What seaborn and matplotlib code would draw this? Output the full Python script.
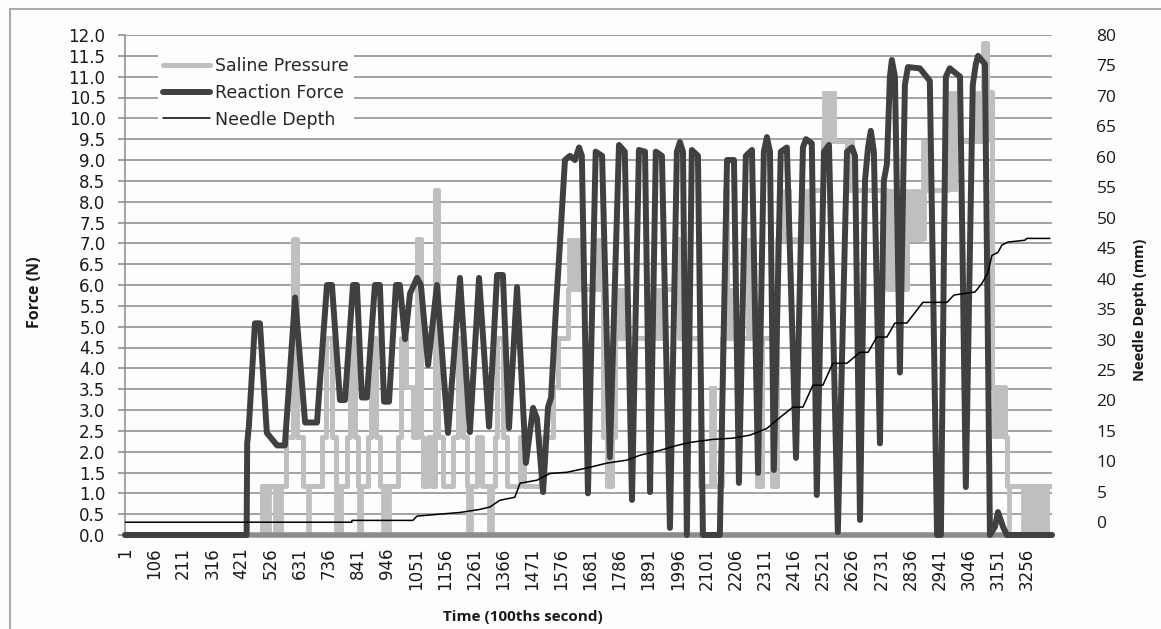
import numpy as np
import pandas as pd
import matplotlib
matplotlib.use("Agg")
import matplotlib.pyplot as plt
from matplotlib.lines import Line2D
from matplotlib.patches import Rectangle
import seaborn as sns

# ---------------- data ----------------
tick_labels = [str(v) for v in range(1, 3257, 105)]

# Reaction force (N) key points
force_time = [1, 440, 442, 448, 470, 488, 513, 550, 578, 615, 651, 694, 730, 748, 777, 795,
              824, 838, 856, 874, 903, 921, 936, 954, 979, 993, 1012, 1030, 1055, 1069, 1095,
              1127, 1167, 1210, 1246, 1279, 1315, 1344, 1365, 1387, 1416, 1448, 1474, 1488,
              1510, 1528, 1539, 1557, 1571, 1589, 1607, 1625, 1640, 1650, 1672, 1700, 1723,
              1751, 1784, 1805, 1831, 1856, 1878, 1896, 1917, 1939, 1968, 1993, 2004, 2015,
              2029, 2047, 2069, 2087, 2148, 2174, 2199, 2217, 2242, 2264, 2286, 2307, 2318,
              2329, 2343, 2368, 2390, 2423, 2448, 2459, 2480, 2498, 2524, 2542, 2574, 2607,
              2625, 2636, 2654, 2672, 2683, 2693, 2704, 2726, 2740, 2751, 2762, 2769, 2780,
              2798, 2816, 2827, 2870, 2906, 2932, 2946, 2964, 2978, 3015, 3036, 3061, 3072,
              3080, 3105, 3123, 3141, 3152, 3170, 3184, 3347]
force_value = [0, 0, 2.2, 2.6, 5.08, 5.08, 2.45, 2.15, 2.15, 5.7, 2.7, 2.7, 6.0, 6.0, 3.24, 3.24,
               6.0, 6.0, 3.3, 3.3, 6.0, 6.0, 3.2, 3.2, 6.0, 6.0, 4.7, 5.8, 6.17, 6.0, 4.08,
               6.0, 2.45, 6.17, 2.47, 6.17, 2.6, 6.24, 6.24, 2.57, 5.95, 1.73, 3.05, 2.8,
               1.03, 3.07, 3.3, 5.5, 7.0, 9.0, 9.1, 9.0, 9.3, 9.1, 1.0, 9.2, 9.1,
               1.87, 9.36, 9.2, 0.84, 9.24, 9.2, 1.03, 9.2, 9.1, 0.17, 9.2, 9.43, 9.2,
               0.0, 9.24, 9.1, 0.0, 0.0, 9.0, 9.0, 1.25, 9.1, 9.24, 1.49, 9.2, 9.55,
               9.2, 1.56, 9.2, 9.3, 1.85, 9.3, 9.5, 9.4, 0.96, 9.2, 9.36, 0.07, 9.2,
               9.3, 9.1, 0.36, 8.5, 9.3, 9.7, 9.2, 2.2, 8.5, 8.9, 11.0, 11.4, 11.0,
               3.9, 10.8, 11.23, 11.2, 10.9, 0.0, 0.0, 11.0, 11.2, 11.0, 1.15, 10.8, 11.3,
               11.5, 11.3, 0.0, 0.2, 0.55, 0.2, 0.0, 0.0]

# Saline pressure: level changes (time, new level)
saline_time = [1, 495, 582, 607, 622, 643, 712, 726, 748, 762, 801, 812, 831, 842, 878, 888,
               906, 921, 986, 997, 1015, 1040, 1055, 1069, 1076, 1095, 1109, 1120, 1131,
               1149, 1185, 1203, 1221, 1235, 1271, 1289, 1336, 1344, 1365, 1380, 1427, 1441,
               1510, 1546, 1564, 1600, 1726, 1740, 1759, 1769, 1950, 1986, 2000, 2076, 2156,
               2166, 2175, 2282, 2300, 2336, 2354, 2473, 2520, 2607, 2751, 2823, 2877, 2971,
               3098, 3112, 3130, 3177, 3184, 3347]
saline_value = [0, 1.18, 2.36, 7.1, 2.36, 1.18, 2.36, 4.73, 2.36, 1.18, 2.36, 4.73, 2.36, 1.18,
                2.36, 4.73, 2.36, 1.18, 2.36, 4.73, 3.55, 2.36, 7.1, 2.36, 1.18, 2.36, 1.18,
                8.28, 2.36, 1.18, 2.36, 4.73, 2.36, 1.18, 2.36, 1.18, 2.36, 4.73, 2.36, 1.18,
                2.36, 1.18, 2.36, 3.55, 4.73, 5.9, 2.36, 1.18, 2.36, 4.73, 5.9, 7.1, 4.73,
                1.18, 4.73, 8.28, 4.73, 1.18, 4.73, 1.18, 7.1, 8.28, 9.45, 8.28, 5.9, 7.1,
                8.28, 9.45, 11.8, 10.63, 3.55, 2.36, 1.18, 1.18]

# Saline pressure: spans of rapid toggling between two levels
toggle_start = [499, 539, 658, 759, 842, 928, 1235, 1311, 1600, 1704, 1777, 1914, 2112, 2159,
                2246, 2372, 2448, 2520, 2607, 2751, 2823, 2877, 2971, 3069, 3134, 3188, 3238]
toggle_end = [524, 568, 669, 784, 856, 957, 1253, 1329, 1650, 1726, 1813, 1950, 2130, 2192,
              2267, 2401, 2473, 2563, 2628, 2823, 2888, 2906, 3000, 3130, 3177, 3195, 3332]
toggle_low = [0, 0, 0, 0, 0, 0, 0, 0, 5.9, 5.9, 4.73, 4.73, 1.18, 4.73,
              4.73, 7.1, 7.1, 9.45, 8.28, 5.9, 7.1, 8.28, 8.28, 9.45, 2.36, 0, 0]
toggle_high = [1.18, 1.18, 1.18, 1.18, 1.18, 1.18, 1.18, 1.18, 7.1, 7.1, 5.9, 5.9, 3.55, 5.9,
               7.1, 8.28, 8.28, 10.63, 9.45, 8.28, 8.28, 9.45, 10.63, 10.63, 3.55, 1.18, 1.18]

# Needle depth (mm)
needle_time = [1, 820, 820, 1040, 1055, 1131, 1210, 1282, 1318, 1354, 1408, 1427, 1488, 1535,
               1596, 1668, 1740, 1813, 1860, 1932, 1993, 2040, 2123, 2195, 2257, 2318, 2365,
               2412, 2448, 2484, 2520, 2556, 2607, 2654, 2683, 2715, 2751, 2780, 2823, 2881,
               2968, 2993, 3069, 3094, 3115, 3130, 3152, 3166, 3188, 3249, 3256, 3339]
needle_value = [0, 0, 0.3, 0.3, 1.0, 1.3, 1.6, 2.1, 2.5, 3.6, 4.1, 6.4, 6.9, 8.0,
                8.2, 8.9, 9.7, 10.2, 11.0, 11.8, 12.6, 13.1, 13.6, 13.8, 14.3, 15.4, 17.2,
                18.9, 18.9, 22.5, 22.5, 26.1, 26.1, 27.9, 27.9, 30.4, 30.4, 32.7, 32.7, 36.1,
                36.1, 37.3, 37.8, 39.2, 40.9, 43.8, 44.3, 45.5, 46.0, 46.3, 46.6, 46.6]

assert len(force_time) == len(force_value)
assert len(saline_time) == len(saline_value)
assert len(needle_time) == len(needle_value)

# ---------------- styling ----------------
sns.set_theme(style="white")
plt.rcParams['font.family'] = ['DejaVu Sans']

LIGHT = "#bfbfbf"
DARK = "#404040"
GRID = "#8a8a8a"

W, H = 1161, 629
fig = plt.figure(figsize=(W / 100, H / 100), dpi=100, facecolor="#fdfdfd")
ax = fig.add_axes([125 / W, 1 - 535 / H, 927 / W, 500 / H])
ax.set_facecolor("#fdfdfd")

# outer chart border
fig.patches.append(Rectangle((10 / W, -0.05), 1.1, 1 - 9 / H + 0.05, transform=fig.transFigure,
                             fill=False, edgecolor="#9a9a9a", linewidth=1.2, zorder=0))

# saline toggle spans
ax.bar(toggle_start, np.array(toggle_high) - np.array(toggle_low),
       width=np.array(toggle_end) - np.array(toggle_start), bottom=toggle_low,
       align="edge", color=LIGHT, edgecolor=LIGHT, linewidth=2.0, zorder=2)

saline_df = pd.DataFrame({"t": saline_time, "v": saline_value})
sns.lineplot(data=saline_df, x="t", y="v", ax=ax, color=LIGHT, linewidth=3.6,
             estimator=None, sort=False, drawstyle="steps-post", zorder=2)

ax.axhline(0, color="#8c8c8c", linewidth=4.0, zorder=2.5, clip_on=False)

force_df = pd.DataFrame({"t": force_time, "v": force_value})
sns.lineplot(data=force_df, x="t", y="v", ax=ax, color=DARK, linewidth=4.3,
             estimator=None, sort=False, zorder=3, clip_on=False,
             solid_joinstyle="round", solid_capstyle="round")

ax.set_xlim(1, 3347)
ax.set_ylim(0, 12)
ax.set_yticks(np.arange(0, 12.01, 0.5))
ax.set_yticklabels([f"{v:.1f}" for v in np.arange(0, 12.01, 0.5)])
ax.set_xticks(list(range(1, 3257, 105)))
ax.set_xticklabels(tick_labels, rotation=90, va="top", ha="center")
ax.yaxis.grid(True, color=GRID, linewidth=1.1, zorder=0)
ax.set_axisbelow(True)
ax.tick_params(axis="y", length=5, color=GRID, width=1.1, pad=9, labelsize=12, labelcolor="#1a1a1a")
ax.tick_params(axis="x", length=0, pad=9, labelsize=12, labelcolor="#1a1a1a")
for s in ["top", "right", "bottom"]:
    ax.spines[s].set_visible(False)
ax.spines["left"].set_color(GRID)
ax.spines["left"].set_linewidth(1.1)
ax.set_xlabel("")
ax.set_ylabel("")

# secondary axis: needle depth
ax2 = ax.twinx()
needle_df = pd.DataFrame({"t": needle_time, "v": needle_value})
sns.lineplot(data=needle_df, x="t", y="v", ax=ax2, color="black", linewidth=1.1,
             estimator=None, sort=False)
ax2.set_ylim(-2.1, 80)
ax2.set_yticks(range(0, 81, 5))
ax2.set_yticklabels([str(v) for v in range(0, 81, 5)], family="Open Sans")
ax2.tick_params(axis="y", length=0, pad=32, labelsize=12.5, labelcolor="#1a1a1a")
for s in ax2.spines.values():
    s.set_visible(False)
ax2.set_ylabel("")
ax2.set_xlabel("")
ax2.set_xlim(1, 3347)

# axis titles
fig.text(35 / W, 1 - 292 / H, "Force (N)", rotation=90, ha="center", va="center",
         family="Open Sans", fontweight="bold", fontsize=11.5, color="#1a1a1a")
fig.text(1140 / W, 1 - 310 / H, "Needle Depth (mm)", rotation=90, ha="center", va="center",
         family="Open Sans", fontweight="bold", fontsize=10.5, color="#1a1a1a")
fig.text(523 / W, 1 - 617 / H, "Time (100ths second)", ha="center", va="center",
         family="Open Sans", fontweight="bold", fontsize=11, color="#1a1a1a")

# legend
handles = [Line2D([], [], color=LIGHT, linewidth=3.6),
           Line2D([], [], color=DARK, linewidth=4.3),
           Line2D([], [], color="black", linewidth=1.1)]
leg = ax2.legend(handles, ["Saline Pressure", "Reaction Force", "Needle Depth"],
                 loc="upper left", bbox_to_anchor=(33 / 927, 1 - 17 / 500), frameon=True,
                 fontsize=12.5, handlelength=2.7, handletextpad=0.3, labelspacing=0.5,
                 borderpad=0.3, borderaxespad=0)
leg.get_frame().set_facecolor("#fdfdfd")
leg.get_frame().set_edgecolor("none")
leg.get_frame().set_alpha(1)
leg.set_zorder(10)

fig.savefig("out.png", dpi=100, facecolor=fig.get_facecolor())
